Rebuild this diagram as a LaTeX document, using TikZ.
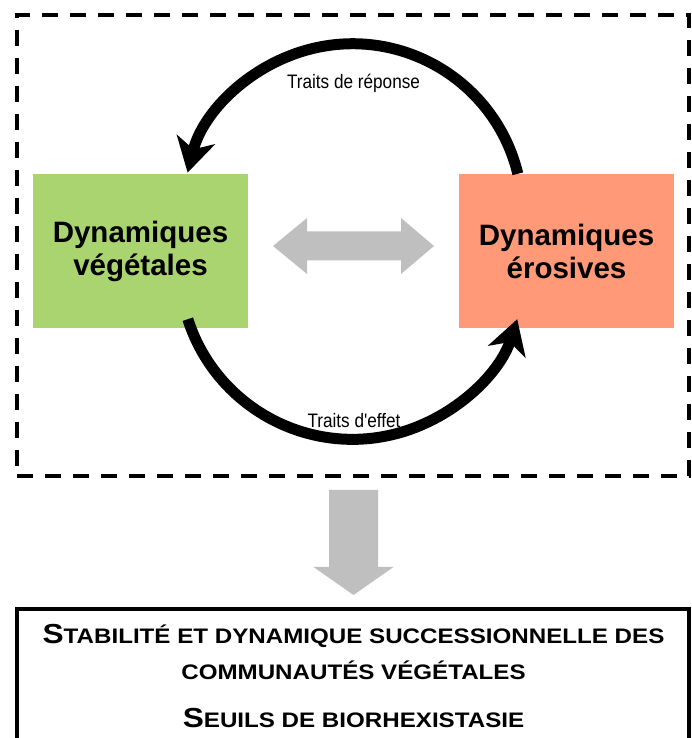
\documentclass[tikz,border=0pt]{standalone}
\usepackage{fontspec}
\setmainfont{Liberation Sans}
\newfontfamily\capsfont[FakeStretch=1.15]{Liberation Sans}
\newfontfamily\narrowfont[FakeStretch=0.88]{Liberation Sans}
\usetikzlibrary{arrows.meta}
\definecolor{vegcol}{RGB}{169,212,111}
\definecolor{erocol}{RGB}{255,153,119}
\definecolor{graycol}{RGB}{191,191,191}
\begin{document}
\begin{tikzpicture}[x=1pt,y=1pt,
  dynbox/.style={inner sep=0pt, minimum width=215pt, minimum height=154pt,
    font=\bfseries\fontsize{29.5}{33}\selectfont, align=center},
  bigarrow/.style={line width=11pt, -{Stealth[length=34pt,width=39pt,inset=10pt]}},
  lbl/.style={font=\narrowfont\fontsize{19.5}{22}\selectfont, inner sep=0pt, anchor=base},
  capsline/.style={font=\capsfont\bfseries, inner sep=0pt, anchor=base},
  frameline/.style={line width=4pt}]
\useasboundingbox (0,0) rectangle (691,738);

% dashed frame
\node[frameline, draw, dash pattern=on 16pt off 12pt, inner sep=0pt,
      minimum width=672pt, minimum height=461pt] (frame) at (353,492.5) {};

% boxes
\node[dynbox, fill=vegcol] (veg) at (140.5,487) {Dynamiques\\végétales};
\node[dynbox, fill=erocol] (ero) at (566.5,487) {Dynamiques\\érosives};

% gray double arrow
\fill[graycol] (273,492) -- (307,520) -- (307,506.5) -- (401,506.5) -- (401,520)
  -- (434,492) -- (401,464) -- (401,477.5) -- (307,477.5) -- (307,464) -- cycle;

% black curved arrows
\draw[bigarrow] ([xshift=59pt]ero.north west) arc[start angle=13.6, end angle=166, radius=170];
\draw[bigarrow] ([shift={(155pt,9pt)}]veg.south west) arc[start angle=197.8, end angle=342.2, radius=173];

% labels
\node[lbl] (tr) at (353.5,649) {Traits de réponse};
\node[lbl] (te) at (354,310) {Traits d'effet};

% gray down arrow
\fill[graycol] (329,248) -- (378,248) -- (378,171) -- (393.5,171) -- (353.5,143)
  -- (313.5,171) -- (329,171) -- cycle;

% bottom box
\draw[frameline] (17,0) -- (17,129) -- (689,129) -- (689,0);
\node[capsline] (l1) at (353.5,94) {{\fontsize{27.5}{30}\selectfont S}{\fontsize{21}{24}\selectfont TABILITÉ ET DYNAMIQUE SUCCESSIONNELLE DES}};
\node[capsline] (l2) at (353.5,58) {\fontsize{21}{24}\selectfont COMMUNAUTÉS VÉGÉTALES};
\node[capsline] (l3) at (353.5,10) {{\fontsize{27.5}{30}\selectfont S}{\fontsize{21}{24}\selectfont EUILS DE BIORHEXISTASIE}};
\end{tikzpicture}
\end{document}
